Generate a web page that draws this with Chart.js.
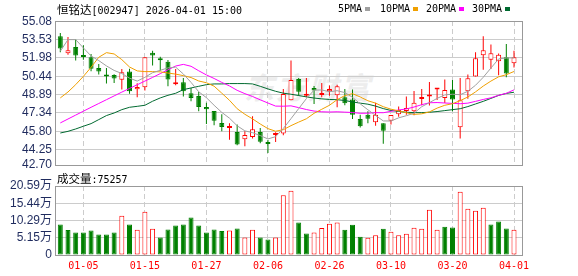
<!DOCTYPE html>
<html>
<head>
<meta charset="utf-8">
<script src="https://cdn.jsdelivr.net/npm/chart.js@4.4.1/dist/chart.umd.min.js"></script>
<style>
  body { margin: 0; background: #fff; }
  #wrap { position: relative; width: 578px; height: 276px; overflow: hidden; }
  canvas { position: absolute; left: 0; top: 0; }
  .txt { position: absolute; white-space: nowrap; color: #000; line-height: 14px;
         font-family: 'DejaVu Sans Mono', monospace; font-size: 10px; }
  .mono { font-family: 'DejaVu Sans Mono', monospace; font-size: 10px; }
  .cjk { font-family: 'Noto Sans CJK SC', sans-serif; font-size: 11.5px; }
  .box { position: absolute; width: 5px; height: 4px; }
  #mark { position: absolute; left: 244px; top: 64px; font: italic bold 30px 'Noto Sans CJK SC', sans-serif;
          color: #ededed; letter-spacing: 2px; }
</style>
</head>
<body>
<div id="wrap">
  <div id="mark">东方财富</div>
  <canvas id="price" width="578" height="276"></canvas>
  <canvas id="vol" width="578" height="276"></canvas>
  <div class="txt" id="title" style="left:57px;top:2px"></div>
  <div id="legend"></div>
  <div class="txt" id="volTitle" style="left:57px;top:171px"></div>
</div>
<script>
const stockName = '恒铭达';
const stockCode = '002947';
const stamp = '2026-04-01 15:00';

const dates = ['12-29','12-30','12-31','01-05','01-06','01-07','01-08','01-09','01-12','01-13',
  '01-14','01-15','01-16','01-19','01-20','01-21','01-22','01-23','01-26','01-27',
  '01-28','01-29','01-30','02-02','02-03','02-04','02-05','02-06','02-09','02-10',
  '02-11','02-12','02-13','02-24','02-25','02-26','02-27','03-02','03-03','03-04',
  '03-05','03-06','03-09','03-10','03-11','03-12','03-13','03-16','03-17','03-18',
  '03-19','03-20','03-23','03-24','03-25','03-26','03-27','03-30','03-31','04-01'];

const opens = [53.81,52.38,52.91,52.24,52.04,51.14,50.46,50.55,50.15,50.83,
  49.34,49.51,52.43,51.93,51.67,49.76,49.93,49.00,48.78,47.85,
  47.51,46.50,46.08,45.74,45.12,45.32,45.74,44.75,45.49,45.60,
  48.41,50.21,48.80,49.45,48.86,49.17,48.83,48.66,48.47,46.83,
  47.20,46.55,46.47,46.69,47.23,47.51,47.48,48.52,48.72,49.31,
  48.61,49.31,46.13,49.17,50.41,52.21,51.84,51.70,52.04,51.53];
const highs = [54.09,53.75,53.53,53.05,52.32,51.48,51.14,50.60,51.05,51.08,
  49.84,52.04,52.60,52.09,51.81,51.05,50.29,49.45,49.11,48.21,
  47.51,47.23,46.47,46.36,45.79,47.06,46.08,45.06,45.71,49.37,
  51.76,50.29,50.29,49.62,49.87,49.65,49.73,49.37,49.31,47.20,
  47.48,48.21,46.47,47.17,47.88,48.72,49.20,49.37,49.96,49.45,
  50.16,50.13,50.29,50.58,52.46,53.81,53.11,52.35,53.16,52.60];
const lows = [52.46,52.26,51.76,51.84,50.86,50.58,49.82,49.87,49.31,48.97,
  48.66,49.23,51.34,50.91,49.59,49.68,48.72,48.33,47.48,46.41,
  46.30,45.79,45.09,44.61,44.53,45.18,44.78,43.97,44.89,45.46,
  48.41,48.80,48.66,48.10,48.66,48.80,47.82,47.99,46.83,46.11,
  46.47,46.27,44.75,46.36,47.03,47.20,47.14,47.99,47.96,48.44,
  48.19,47.48,45.18,48.55,50.41,50.99,51.05,50.52,50.35,51.17];
const closes = [52.77,52.63,52.18,52.07,51.08,50.83,50.41,50.24,50.77,49.17,
  49.54,52.04,52.18,51.79,50.16,49.87,49.17,48.61,47.85,47.65,
  46.69,46.16,46.13,44.67,45.49,45.96,44.92,44.72,45.60,48.94,
  50.13,49.14,48.92,49.23,48.97,49.37,49.59,48.16,47.20,46.22,
  46.86,47.20,45.85,47.17,47.59,47.76,48.21,48.61,48.86,49.40,
  49.28,48.47,48.41,50.27,51.95,52.63,52.38,52.26,50.66,52.04];

const ma5 = [52.55,53.53,53.53,52.83,52.15,51.76,51.31,50.93,50.67,50.28,
  50.03,50.35,50.74,50.94,51.14,51.21,50.63,49.92,49.13,48.63,
  47.99,47.39,46.90,46.26,45.83,45.68,45.43,45.15,45.34,46.03,
  46.86,47.71,48.55,49.27,49.28,49.13,49.22,49.06,48.66,48.11,
  47.61,47.13,46.67,46.66,46.93,47.11,47.32,47.87,48.21,48.57,
  48.87,48.92,48.88,49.17,49.68,50.35,51.13,51.90,51.98,51.99];
const ma10 = [48.61,49.11,49.73,50.43,51.19,52.04,52.43,52.32,51.84,51.22,
  50.89,50.83,50.83,50.81,50.71,50.62,50.49,50.33,50.04,49.89,
  49.60,49.01,48.41,47.70,47.23,46.84,46.41,46.02,45.80,45.93,
  46.27,46.57,46.85,47.31,47.65,47.99,48.46,48.81,48.97,48.69,
  48.37,48.17,47.87,47.66,47.52,47.36,47.22,47.27,47.43,47.75,
  47.99,48.12,48.38,48.69,49.12,49.61,50.03,50.39,50.57,50.84];
const ma20 = [46.50,46.83,47.16,47.49,47.82,48.14,48.46,48.78,49.10,49.41,
  49.72,50.03,50.34,50.66,50.98,51.30,51.44,51.28,50.90,50.55,
  50.25,49.92,49.62,49.25,48.97,48.73,48.45,48.18,47.92,47.91,
  47.94,47.79,47.63,47.50,47.44,47.42,47.44,47.41,47.38,47.31,
  47.32,47.37,47.36,47.48,47.59,47.68,47.84,48.04,48.20,48.22,
  48.18,48.15,48.12,48.17,48.32,48.48,48.62,48.83,49.00,49.29];
const ma30 = [45.65,45.79,45.99,46.22,46.44,46.78,47.12,47.34,47.62,47.82,
  47.90,47.99,48.33,48.61,48.83,49.00,49.31,49.45,49.59,49.73,
  49.79,49.79,49.82,49.82,49.82,49.79,49.59,49.37,49.17,49.01,
  48.92,48.81,48.70,48.60,48.53,48.48,48.46,48.39,48.27,48.17,
  48.08,47.92,47.71,47.55,47.47,47.40,47.37,47.37,47.40,47.46,
  47.54,47.62,47.70,47.88,48.10,48.32,48.57,48.82,48.99,49.09];

const volumes = [91300,74300,67400,67400,73400,61400,61400,67400,117000,91300,
  75400,129000,78400,52400,76300,88300,91300,112000,88300,67400,
  76300,71300,73400,79300,52400,75400,52400,46400,52400,178000,
  192000,97300,64400,67400,80300,93400,97300,75400,90400,54500,
  51500,59300,78400,69500,59300,63400,81400,78400,135000,75400,
  84400,82300,189000,138000,132000,141000,91300,100300,79300,75257];
// 1 = red (up) volume bar, 0 = green
const volUp = [0,0,0,0,0,0,0,0,1,0, 1,1,1,0,0,0,0,0,0,0,
  0,0,1,0,1,1,0,0,1,1, 1,0,0,1,1,1,1,0,0,0,
  1,1,0,1,1,1,1,1,1,1, 0,0,1,1,1,1,0,0,0,1];

const priceTicks = ['55.08','53.53','51.98','50.44','48.89','47.34','45.80','44.25','42.70'];
const volTicks = [0, 51475, 102950, 154425, 205900];
const volTickLabels = ['0','5.15万','10.29万','15.44万','20.59万'];
const xTickLabels = ['01-05','01-15','01-27','02-06','02-26','03-10','03-20','04-01'];
const maNames = ['5PMA','10PMA','20PMA','30PMA'];

const RED = '#ff0000', GREEN = '#008000', GRID = '#cccccc', TICK = '#1f2b5e';
const maColors = ['#a0a0a0', '#f0a000', '#ff00ff', '#006a30'];
const maData = [ma5, ma10, ma20, ma30];

const idx = dates.map((d, i) => i);
const up = closes.map((c, i) => c >= opens[i]);
const tickIdx = xTickLabels.map(l => dates.indexOf(l));

// frame around the plot area
const frame = {
  id: 'frame',
  afterDraw(chart) {
    const { ctx, chartArea: a } = chart;
    ctx.save();
    ctx.strokeStyle = '#999999';
    ctx.lineWidth = 1;
    ctx.strokeRect(a.left + 0.5, a.top + 0.5, a.right - a.left, a.bottom - a.top);
    ctx.restore();
  }
};

function xAxis(showLabels) {
  return {
    type: 'linear', min: -0.69, max: 60.04, offset: false,
    afterBuildTicks: s => { s.ticks = tickIdx.map(v => ({ value: v })); },
    afterFit: s => { s.height = showLabels ? 21 : 0; },
    grid: { color: GRID, drawTicks: false, offset: false },
    border: { display: false, dash: [5, 3] },
    ticks: {
      display: showLabels, autoSkip: false, maxRotation: 0, padding: 5, color: RED,
      font: { family: "'DejaVu Sans Mono', monospace", size: 10 },
      callback: v => dates[v]
    }
  };
}

const yFont = { family: "'Liberation Sans', Arial, 'Noto Sans CJK SC', sans-serif", size: 12 };

const common = {
  responsive: false,
  animation: false,
  events: [],
  plugins: { legend: { display: false }, tooltip: { enabled: false } }
};

new Chart(document.getElementById('price'), {
  type: 'bar',
  data: {
    datasets: [
      ...maNames.map((n, k) => ({
        type: 'line', label: n,
        data: maData[k].map((v, i) => ({ x: i, y: v })),
        borderColor: maColors[k], borderWidth: 1, pointRadius: 0, tension: 0, order: k
      })),
      {
        type: 'bar', label: 'body',
        data: idx.map(i => ({ x: i, y: [opens[i], closes[i]] })),
        backgroundColor: up.map(u => u ? '#ffffff' : GREEN),
        borderColor: up.map(u => u ? RED : GREEN),
        borderWidth: 1, borderSkipped: false, grouped: false,
        maxBarThickness: 5, minBarLength: 2, order: 10
      },
      {
        type: 'bar', label: 'wick',
        data: idx.map(i => ({ x: i, y: [lows[i], highs[i]] })),
        backgroundColor: up.map(u => u ? RED : GREEN),
        grouped: false, maxBarThickness: 1, order: 11
      }
    ]
  },
  options: {
    ...common,
    layout: { padding: { left: 0, right: 56, top: 21, bottom: 111 } },
    scales: {
      x: xAxis(false),
      y: {
        min: 42.95, max: 55.10,
        afterBuildTicks: s => { s.ticks = priceTicks.map(t => ({ value: Math.max(parseFloat(t), s.min) })); },
        afterFit: s => { s.width = 55; },
        grid: { color: GRID, drawTicks: false },
        border: { display: false },
        ticks: { autoSkip: false, padding: 3, color: TICK, font: yFont, callback: (v, i) => priceTicks[i] }
      }
    }
  },
  plugins: [frame]
});

new Chart(document.getElementById('vol'), {
  type: 'bar',
  data: {
    datasets: [{
      label: '成交量',
      data: idx.map(i => ({ x: i, y: volumes[i] })),
      backgroundColor: volUp.map(u => u ? '#ffffff' : GREEN),
      borderColor: volUp.map(u => u ? RED : GREEN),
      borderWidth: 1, borderSkipped: false, grouped: false, maxBarThickness: 5
    }]
  },
  options: {
    ...common,
    layout: { padding: { left: 0, right: 56, top: 186, bottom: 0 } },
    scales: {
      x: xAxis(true),
      y: {
        min: 0, max: 205900,
        afterBuildTicks: s => { s.ticks = volTicks.map(v => ({ value: v })); },
        afterFit: s => { s.width = 55; },
        grid: { color: GRID, drawTicks: false },
        border: { display: false },
        ticks: { autoSkip: false, padding: 3, color: TICK, font: yFont, callback: (v, i) => volTickLabels[i] }
      }
    }
  },
  plugins: [frame]
});

// header texts
document.getElementById('title').innerHTML =
  '<span class="cjk">' + stockName + '</span><span class="mono">[' + stockCode + '] ' + stamp + '</span>';
document.getElementById('volTitle').innerHTML =
  '<span class="cjk">成交量</span><span class="mono">:' + volumes[volumes.length - 1] + '</span>';

const legend = document.getElementById('legend');
const legendLeft = [338, 380, 426, 472];
maNames.forEach((n, k) => {
  const t = document.createElement('div');
  t.className = 'txt';
  t.style.left = legendLeft[k] + 'px';
  t.style.top = '2px';
  t.textContent = n;
  legend.appendChild(t);
  const b = document.createElement('div');
  b.className = 'box';
  b.style.left = (legendLeft[k] + n.length * 6 + 3) + 'px';
  b.style.top = '7px';
  b.style.background = maColors[k];
  legend.appendChild(b);
});
</script>
</body>
</html>
